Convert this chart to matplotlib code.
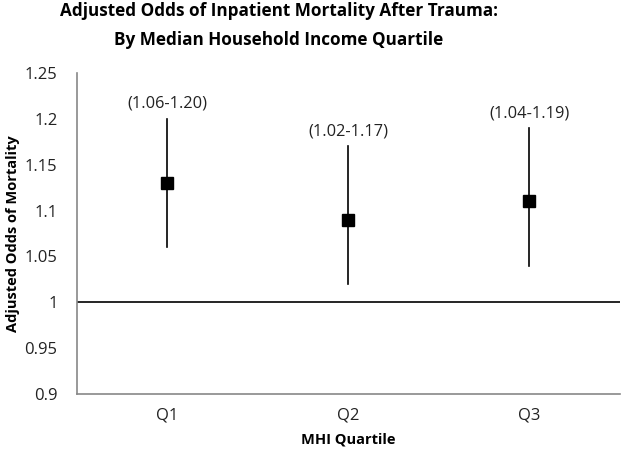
import matplotlib
matplotlib.use('Agg')
import matplotlib.pyplot as plt

quartiles = ['Q1', 'Q2', 'Q3']
odds = [1.13, 1.09, 1.11]
ci_low = [1.06, 1.02, 1.04]
ci_high = [1.20, 1.17, 1.19]
ci_labels = ['(1.06-1.20)', '(1.02-1.17)', '(1.04-1.19)']
yticks = [0.9, 0.95, 1, 1.05, 1.1, 1.15, 1.2, 1.25]
ytick_labels = ['0.9', '0.95', '1', '1.05', '1.1', '1.15', '1.2', '1.25']

plt.rcParams['font.family'] = ['Open Sans', 'DejaVu Sans']

fig = plt.figure()
fig.set_size_inches(6.27, 4.55)
ax = fig.add_axes([77 / 627, 1 - 394 / 455, 543 / 627, 321 / 455])

xs = list(range(len(quartiles)))
# error bars (confidence intervals)
for x, lo, hi in zip(xs, ci_low, ci_high):
    ax.plot([x, x], [lo, hi], color='black', linewidth=1.2)
ax.plot(xs, odds, linestyle='none', marker='s', markersize=9, color='black')

for x, hi, lab in zip(xs, ci_high, ci_labels):
    ax.annotate(lab, (x, hi), xytext=(0, 5), textcoords='offset points',
                ha='center', va='bottom', fontsize=11.8, color='#222222')

# reference line at 1
ax.axhline(1, color='black', linewidth=1.2)

ax.set_xlim(-0.5, 2.5)
ax.set_ylim(0.9, 1.25)
ax.set_yticks(yticks)
ax.set_yticklabels(ytick_labels)
ax.set_xticks(xs)
ax.set_xticklabels(quartiles)
ax.tick_params(axis='both', length=0, labelsize=12, colors='#222222', pad=10)
ax.tick_params(axis='y', pad=14)

ax.spines['top'].set_visible(False)
ax.spines['right'].set_visible(False)
ax.spines['left'].set_color('#888888')
ax.spines['bottom'].set_color('#888888')
ax.spines['left'].set_linewidth(1.2)
ax.spines['bottom'].set_linewidth(1.2)

ax.set_xlabel('MHI Quartile', fontsize=10.5, fontweight='bold', labelpad=6)
ax.set_ylabel('Adjusted Odds of Mortality', fontsize=10.5, fontweight='bold', labelpad=3)

fig.suptitle('Adjusted Odds of Inpatient Mortality After Trauma:\nBy Median Household Income Quartile',
             x=(62 + 495) / 2 / 627, y=0.995, fontsize=12.3, fontweight='bold', linespacing=1.75)

plt.savefig('out.png', dpi=100)
plt.close()
